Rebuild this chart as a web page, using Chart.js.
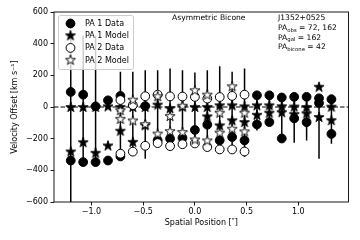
<!DOCTYPE html>
<html><head><meta charset="utf-8">
<script src="https://cdn.jsdelivr.net/npm/chart.js@4/dist/chart.umd.min.js"></script>
<style>html,body{margin:0;padding:0;background:#fff}</style>
</head><body>
<canvas id="c" width="360" height="240" style="width:360px;height:240px;display:block"></canvas>
<script>
// ---- data ----
const positions = [-1.2,-1.08,-0.96,-0.84,-0.72,-0.6,-0.48,-0.36,-0.24,-0.12,0,0.12,0.24,0.36,0.48,0.6,0.72,0.84,0.96,1.08,1.2,1.32];
const pa1DataUpper  = [95,78,4,42,70,null,6,null,null,null,null,null,null,null,null,74,74,60,64,64,55,49];
const pa1DataLower  = [-338,-348,-348,-338,-312,null,null,-211,-200,-195,-145,-112,-211,-190,-211,-110,-95,-199,-72,-96,25,-170];
const pa1ModelUpper = [0,0,0,4,0,0,0,15,-8,2,0,0,11,11,4,11,11,5,3,0,128,2];
const pa1ModelLower = [-281,-222,-289,-243,-150,-220,-115,null,null,null,null,-59,-116,-84,-95,-49,-36,-33,-45,-40,-63,-83];
const pa1ErrLow  = [-650,-348,-348,null,null,null,null,null,null,null,null,null,null,null,null,-148,-95,-200,-226,-211,-327,-232];
const pa1ErrHigh = [450,450,450,null,null,null,null,null,null,null,null,null,null,null,null,74,74,60,64,64,55,49];

const pa2Positions  = [-0.72,-0.6,-0.48,-0.36,-0.24,-0.12,0,0.12,0.24,0.36,0.48];
const pa2DataUpper  = [44,12,68,78,67,66,64,53,63,70,78];
const pa2DataLower  = [-295,-282,-245,-228,-247,-235,-230,-253,-268,-268,-281];
const pa2ModelUpper = [-20,46,null,68,-57,8,106,78,-36,131,-36];
const pa2ModelLower = [-75,-85,-108,-168,-152,-158,-205,-211,-162,-137,-154];
const pa2ErrLow  = [-330,-306,-327,-243,-260,-250,-240,-265,-270,-270,-316];
const pa2ErrHigh = [222,222,232,232,243,232,218,232,257,222,243];

const xTicks = [-1.0,-0.5,0.0,0.5,1.0];
const yTicks = [-600,-400,-200,0,200,400,600];
const seriesLabels = ['PA 1 Data','PA 1 Model','PA 2 Data','PA 2 Model'];
const titleText = 'Asymmetric Bicone';
const objectName = 'J1352+0525';
const infoLines = [['obs',' = 72, 162'],['gal',' = 162'],['bicone',' = 42']];

// ---- helpers ----
function pts(xs, a, b){
  const out=[];
  xs.forEach((x,i)=>{ if(a[i]!==null) out.push({x,y:a[i]}); if(b[i]!==null) out.push({x,y:b[i]}); });
  return out;
}
function starCanvas(filled){
  const c=document.createElement('canvas'); c.width=12; c.height=12;
  const g=c.getContext('2d'); const R=5.3, r=R*0.381966, cx=6, cy=6.4;
  g.beginPath();
  for(let k=0;k<10;k++){
    const ang=-Math.PI/2 + k*Math.PI/5; const rr=(k%2===0)?R:r;
    const px=cx+rr*Math.cos(ang), py=cy+rr*Math.sin(ang);
    k===0?g.moveTo(px,py):g.lineTo(px,py);
  }
  g.closePath();
  g.fillStyle=filled?'#000':'#fff'; g.fill();
  g.lineWidth=0.9; g.strokeStyle='#000'; g.lineJoin='miter'; g.stroke();
  return c;
}
const starFilled=starCanvas(true), starOpen=starCanvas(false);
const fmtMinus = s => String(s).replace('-','\u2212');

const datasets = [
  {label:seriesLabels[0], data:pts(positions,pa1DataUpper,pa1DataLower), pointStyle:'circle', pointRadius:4.4, backgroundColor:'#000', borderColor:'#000', borderWidth:1, order:4,
   errX:positions, errLo:pa1ErrLow, errHi:pa1ErrHigh},
  {label:seriesLabels[1], data:pts(positions,pa1ModelUpper,pa1ModelLower), pointStyle:starFilled, pointRadius:6, backgroundColor:'#000', borderColor:'#000', order:3},
  {label:seriesLabels[2], data:pts(pa2Positions,pa2DataUpper,pa2DataLower), pointStyle:'circle', pointRadius:4.4, backgroundColor:'#fff', borderColor:'#000', borderWidth:1, order:2,
   errX:pa2Positions, errLo:pa2ErrLow, errHi:pa2ErrHigh},
  {label:seriesLabels[3], data:pts(pa2Positions,pa2ModelUpper,pa2ModelLower), pointStyle:starOpen, pointRadius:6, backgroundColor:'#fff', borderColor:'#000', order:1}
];

const underlay = {
  id:'underlay',
  beforeDatasetsDraw(chart){
    const {ctx, chartArea:ca, scales:{x,y}} = chart;
    ctx.save();
    ctx.beginPath(); ctx.rect(ca.left,ca.top,ca.right-ca.left,ca.bottom-ca.top); ctx.clip();
    ctx.strokeStyle='#000'; ctx.lineWidth=1.5;
    chart.data.datasets.forEach(ds=>{
      if(!ds.errX) return;
      ds.errX.forEach((xv,i)=>{
        if(ds.errLo[i]===null) return;
        const px=x.getPixelForValue(xv);
        ctx.beginPath(); ctx.moveTo(px,y.getPixelForValue(ds.errLo[i])); ctx.lineTo(px,y.getPixelForValue(ds.errHi[i])); ctx.stroke();
      });
    });
    ctx.setLineDash([4.5,2]); ctx.lineWidth=1.2;
    const y0=y.getPixelForValue(0);
    ctx.beginPath(); ctx.moveTo(ca.left,y0); ctx.lineTo(ca.right,y0); ctx.stroke();
    ctx.restore();
  }
};

const overlay = {
  id:'overlay',
  afterDatasetsDraw(chart){
    const {ctx, chartArea:ca} = chart;
    ctx.save();
    ctx.strokeStyle='#000'; ctx.lineWidth=0.9;
    ctx.strokeRect(ca.left,ca.top,ca.right-ca.left,ca.bottom-ca.top);
    const lx=ca.left+4, ly=ca.top+3, lw=75, lh=54;
    ctx.beginPath();
    if(ctx.roundRect) ctx.roundRect(lx+0.5,ly+0.5,lw,lh,2); else ctx.rect(lx+0.5,ly+0.5,lw,lh);
    ctx.fillStyle='rgba(255,255,255,0.8)'; ctx.fill();
    ctx.strokeStyle='#cccccc'; ctx.lineWidth=1; ctx.stroke();
    ctx.font='8px "DejaVu Sans"'; ctx.textBaseline='middle'; ctx.textAlign='left';
    chart.data.datasets.forEach((ds,i)=>{
      const cy=ly+8.5+i*12.2, mx=lx+12.5;
      if(ds.pointStyle==='circle'){
        ctx.beginPath(); ctx.arc(mx,cy,4.4,0,2*Math.PI);
        ctx.fillStyle=ds.backgroundColor; ctx.fill(); ctx.lineWidth=1; ctx.strokeStyle='#000'; ctx.stroke();
      } else {
        ctx.drawImage(ds.pointStyle,mx-6,cy-6.4);
      }
      ctx.fillStyle='#000'; ctx.fillText(ds.label,lx+27,cy+0.5);
    });
    ctx.textBaseline='alphabetic';
    const F='7.6px "DejaVu Sans"', S='5.3px "DejaVu Sans"';
    ctx.font=F;
    ctx.fillText(titleText, ca.left+118, ca.top+8);
    const ax=ca.left+224;
    ctx.fillText(objectName, ax, ca.top+8);
    infoLines.forEach((ln,i)=>{
      const by=ca.top+18+i*9.5;
      ctx.font=F;
      ctx.fillText('PA', ax, by);
      let w=ctx.measureText('PA').width;
      ctx.font=S;
      ctx.fillText(ln[0], ax+w, by+1.6);
      w+=ctx.measureText(ln[0]).width;
      ctx.font=F;
      ctx.fillText(ln[1], ax+w, by);
    });
    ctx.restore();
  }
};

new Chart(document.getElementById('c'), {
  type:'scatter',
  data:{datasets},
  options:{
    responsive:false, animation:false, devicePixelRatio:1,
    layout:{padding:{left:0,right:11.5,top:12,bottom:0}},
    plugins:{legend:{display:false}, tooltip:{enabled:false}},
    elements:{point:{hoverRadius:0}},
    scales:{
      x:{type:'linear', min:-1.362, max:1.485,
        afterFit(s){ s.height=38; },
        afterBuildTicks(s){ s.ticks = xTicks.map(v=>({value:v})); },
        ticks:{color:'#000', font:{family:'DejaVu Sans',size:8}, padding:1.5, maxRotation:0, autoSkip:false,
          callback:v=>fmtMinus(Number(v).toFixed(1))},
        grid:{drawOnChartArea:false, drawTicks:true, tickLength:3.5, color:'#000', lineWidth:0.9},
        border:{display:false},
        title:{display:true, text:'Spatial Position [\u2033]', color:'#000', font:{family:'DejaVu Sans',size:8}, padding:{top:0,bottom:12.5}}
      },
      y:{type:'linear', min:-600, max:600,
        afterFit(s){ s.width=54; },
        afterBuildTicks(s){ s.ticks = yTicks.map(v=>({value:v})); },
        ticks:{color:'#000', font:{family:'DejaVu Sans',size:8}, padding:2.5, autoSkip:false,
          callback:v=>fmtMinus(String(v))},
        grid:{drawOnChartArea:false, drawTicks:true, tickLength:3.5, color:'#000', lineWidth:0.9},
        border:{display:false},
        title:{display:true, text:'Velocity Offset [km s\u207B\u00B9]', color:'#000', font:{family:'DejaVu Sans',size:8}, padding:{top:10.2,bottom:0}}
      }
    }
  },
  plugins:[underlay, overlay]
});
</script>
</body></html>
